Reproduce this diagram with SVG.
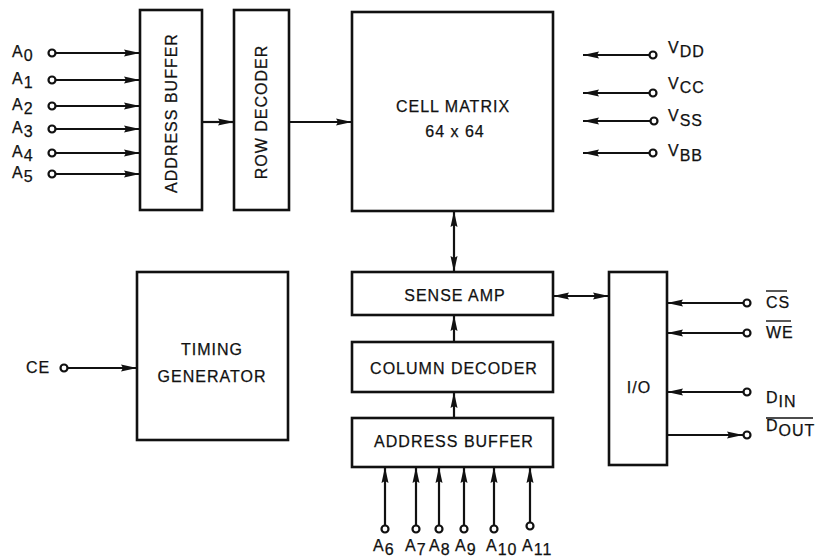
<svg xmlns="http://www.w3.org/2000/svg" width="826" height="558" viewBox="0 0 826 558">
<style>
.box{fill:#fff;stroke:#111;stroke-width:2.6}
.t{font-family:"Liberation Sans",Arial,sans-serif;font-size:16px;fill:#111;letter-spacing:1px;stroke:#111;stroke-width:0.25}
.c{text-anchor:middle}
.ln{stroke:#111;stroke-width:2.2;fill:none}
.pin{fill:#fff;stroke:#111;stroke-width:2.2}
.ov{stroke:#111;stroke-width:1.4}
</style>
<defs>
<marker id="ah" viewBox="0 0 16 8" refX="16" refY="4" markerWidth="16" markerHeight="8" markerUnits="userSpaceOnUse" orient="auto-start-reverse">
<path d="M0,0.5 L16,4 L0,7.5 L2,4 z" fill="#111"/>
</marker>
</defs>
<rect width="826" height="558" fill="#fff"/>

<g id="address-buffer-row">
<rect class="box" x="140" y="10" width="62" height="200"/>
<text class="t c" transform="translate(177,113) rotate(-90)">ADDRESS BUFFER</text>
</g>
<g id="row-decoder">
<rect class="box" x="234" y="10" width="55" height="200"/>
<text class="t c" transform="translate(267,112) rotate(-90)">ROW DECODER</text>
</g>
<g id="cell-matrix">
<rect class="box" x="352" y="12" width="201" height="199"/>
<text class="t c" x="453" y="112">CELL MATRIX</text>
<text class="t c" x="455" y="137">64 x 64</text>
</g>
<g id="timing-generator">
<rect class="box" x="137" y="272" width="151" height="168"/>
<text class="t c" x="212" y="355">TIMING</text>
<text class="t c" x="212" y="382">GENERATOR</text>
</g>
<g id="sense-amp">
<rect class="box" x="352" y="272" width="201" height="43"/>
<text class="t c" x="455" y="301">SENSE AMP</text>
</g>
<g id="column-decoder">
<rect class="box" x="352" y="342" width="201" height="50"/>
<text class="t c" x="454" y="374">COLUMN DECODER</text>
</g>
<g id="address-buffer-col">
<rect class="box" x="352" y="418" width="201" height="49"/>
<text class="t c" x="454" y="447">ADDRESS BUFFER</text>
</g>
<g id="io">
<rect class="box" x="609" y="272" width="58" height="193"/>
<text class="t c" x="639" y="393">I/O</text>
</g>

<g id="connectors">
<line class="ln" x1="56" y1="53" x2="140" y2="53" marker-end="url(#ah)"/>
<line class="ln" x1="56" y1="80" x2="140" y2="80" marker-end="url(#ah)"/>
<line class="ln" x1="56" y1="106" x2="140" y2="106" marker-end="url(#ah)"/>
<line class="ln" x1="56" y1="129" x2="140" y2="129" marker-end="url(#ah)"/>
<line class="ln" x1="56" y1="153" x2="140" y2="153" marker-end="url(#ah)"/>
<line class="ln" x1="56" y1="174" x2="140" y2="174" marker-end="url(#ah)"/>
<line class="ln" x1="202" y1="122" x2="234" y2="122" marker-end="url(#ah)"/>
<line class="ln" x1="289" y1="122" x2="352" y2="122" marker-end="url(#ah)"/>
<line class="ln" x1="649" y1="55" x2="583" y2="55" marker-end="url(#ah)"/>
<line class="ln" x1="649" y1="93" x2="583" y2="93" marker-end="url(#ah)"/>
<line class="ln" x1="650" y1="121" x2="583" y2="121" marker-end="url(#ah)"/>
<line class="ln" x1="649" y1="153" x2="583" y2="153" marker-end="url(#ah)"/>
<line class="ln" x1="68" y1="368" x2="137" y2="368" marker-end="url(#ah)"/>
<line class="ln" x1="454" y1="211" x2="454" y2="272" marker-start="url(#ah)" marker-end="url(#ah)"/>
<line class="ln" x1="553" y1="296" x2="609" y2="296" marker-start="url(#ah)" marker-end="url(#ah)"/>
<line class="ln" x1="454" y1="342" x2="454" y2="315" marker-end="url(#ah)"/>
<line class="ln" x1="454" y1="418" x2="454" y2="392" marker-end="url(#ah)"/>
<line class="ln" x1="385" y1="525" x2="385" y2="467" marker-end="url(#ah)"/>
<line class="ln" x1="416" y1="525" x2="416" y2="467" marker-end="url(#ah)"/>
<line class="ln" x1="439" y1="525" x2="439" y2="467" marker-end="url(#ah)"/>
<line class="ln" x1="464" y1="525" x2="464" y2="467" marker-end="url(#ah)"/>
<line class="ln" x1="494" y1="525" x2="494" y2="467" marker-end="url(#ah)"/>
<line class="ln" x1="530" y1="522" x2="530" y2="467" marker-end="url(#ah)"/>
<line class="ln" x1="743" y1="303" x2="667" y2="303" marker-end="url(#ah)"/>
<line class="ln" x1="743" y1="333" x2="667" y2="333" marker-end="url(#ah)"/>
<line class="ln" x1="743" y1="392" x2="667" y2="392" marker-end="url(#ah)"/>
<line class="ln" x1="667" y1="435" x2="743" y2="435" marker-end="url(#ah)"/>
</g>

<g id="pins">
<circle class="pin" cx="52" cy="53" r="3.5"/>
<circle class="pin" cx="52" cy="80" r="3.5"/>
<circle class="pin" cx="52" cy="106" r="3.5"/>
<circle class="pin" cx="52" cy="129" r="3.5"/>
<circle class="pin" cx="52" cy="153" r="3.5"/>
<circle class="pin" cx="52" cy="174" r="3.5"/>
<circle class="pin" cx="653" cy="55" r="3.5"/>
<circle class="pin" cx="653" cy="93" r="3.5"/>
<circle class="pin" cx="654" cy="121" r="3.5"/>
<circle class="pin" cx="653" cy="153" r="3.5"/>
<circle class="pin" cx="64" cy="368" r="3.5"/>
<circle class="pin" cx="385" cy="529" r="3.5"/>
<circle class="pin" cx="416" cy="529" r="3.5"/>
<circle class="pin" cx="439" cy="529" r="3.5"/>
<circle class="pin" cx="464" cy="529" r="3.5"/>
<circle class="pin" cx="494" cy="529" r="3.5"/>
<circle class="pin" cx="530" cy="526" r="3.5"/>
<circle class="pin" cx="747" cy="303" r="3.5"/>
<circle class="pin" cx="747" cy="333" r="3.5"/>
<circle class="pin" cx="747" cy="392" r="3.5"/>
<circle class="pin" cx="747" cy="435" r="3.5"/>
</g>

<g id="labels">
<text class="t" x="12" y="57">A<tspan dy="4">0</tspan></text>
<text class="t" x="12" y="84">A<tspan dy="4">1</tspan></text>
<text class="t" x="12" y="110">A<tspan dy="4">2</tspan></text>
<text class="t" x="12" y="133">A<tspan dy="4">3</tspan></text>
<text class="t" x="12" y="157">A<tspan dy="4">4</tspan></text>
<text class="t" x="12" y="178">A<tspan dy="4">5</tspan></text>
<text class="t" x="668" y="53">V<tspan dy="4">DD</tspan></text>
<text class="t" x="668" y="89">V<tspan dy="4">CC</tspan></text>
<text class="t" x="668" y="121">V<tspan dy="5">SS</tspan></text>
<text class="t" x="668" y="156">V<tspan dy="5">BB</tspan></text>
<text class="t" x="26" y="373">CE</text>
<text class="t" x="373" y="551">A<tspan dy="4">6</tspan></text>
<text class="t" x="405" y="551">A<tspan dy="4">7</tspan></text>
<text class="t" x="429" y="551">A<tspan dy="4">8</tspan></text>
<text class="t" x="455" y="551">A<tspan dy="4">9</tspan></text>
<text class="t" x="486" y="551">A<tspan dy="4">10</tspan></text>
<text class="t" x="522" y="551">A<tspan dy="4">11</tspan></text>
<text class="t" x="766" y="308">CS</text>
<line class="ov" x1="766" y1="291" x2="787" y2="291"/>
<text class="t" x="766" y="338">WE</text>
<line class="ov" x1="766" y1="321" x2="791" y2="321"/>
<text class="t" x="766" y="403">D<tspan dy="4">IN</tspan></text>
<text class="t" x="766" y="431">D<tspan dy="5">OUT</tspan></text>
<line class="ov" x1="766" y1="418" x2="813" y2="418"/>
</g>
</svg>
